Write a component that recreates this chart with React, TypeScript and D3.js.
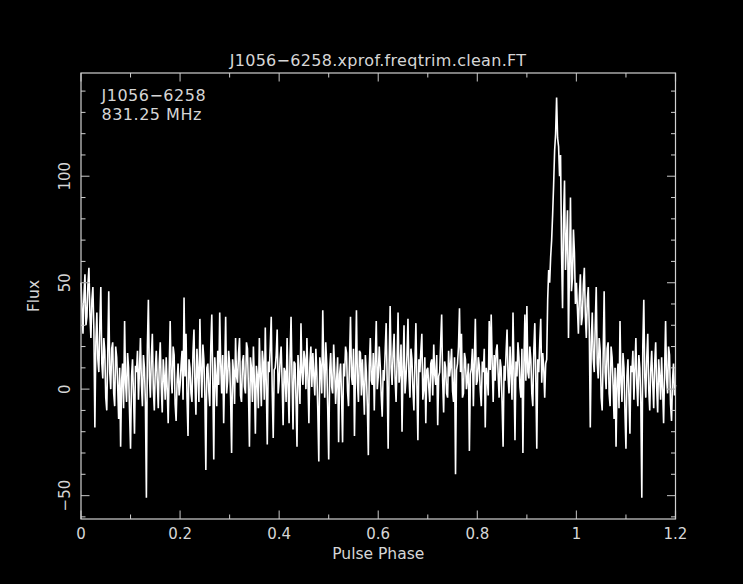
import React from "react";
import * as d3 from "d3";

// One rotation of the pulse profile (500 phase bins, phase = i / 500); the plot shows 1.2 turns
const PROFILE: number[] = [
  50, 38, 26, 44, 54, 30, 34, 49, 57, 35, 24, 42, 48, 28, -18, 22, 36, 14, 8, 30, 48, 12, 5, 24, 18, -4, -10, 16, 46, 8, 0, 19, 22, -2, -8, 20, 15, 2, -14, 10, -27, 4, 12, -9, 32, 3, -6, 17, 10, -11,
  -28, 6, 14, -3, -21, 11, 8, 18, -5, 9, 24, 2, -8, 16, 10, -6, -51, 20, 42, 6, -4, 15, 26, 0, -10, 9, 18, 3, -9, 12, 22, 1, -11, 14, 6, -5, 15, 0, -16, 8, 32, 5, -2, 20, 16, -7, -15, 4, 12, -3,
  2, 11, 18, -5, 43, 6, 26, -4, -22, 14, 10, -2, -6, 17, 28, 3, -12, 19, 8, -6, 33, 9, -4, 21, 14, -3, -38, 10, 12, -1, -8, 20, 35, 4, -33, 15, 6, -8, 18, 2, 36, 12, -2, 16, -16, 8, 34, -2, 4, 18,
  12, -4, -30, 14, 8, -7, 24, 6, 3, 17, 24, -3, -6, 13, 16, 1, -2, 22, 19, 0, -27, 15, 10, -6, 20, 3, -21, 11, 6, -9, 24, 7, -8, 18, 12, -5, 29, 2, -26, 13, 8, 20, 34, -1, -23, 9, 10, 16, 28, -2,
  4, 14, 20, 3, -17, 10, 8, -6, 24, 2, -16, 15, 34, 5, -19, 13, 12, -5, -27, 16, 6, -7, 31, 8, 2, 18, 14, 0, 24, 6, -16, 12, 20, 1, 17, 6, -3, 19, 8, -10, -34, 15, 10, -2, 37, 11, -4, 22, 12, -9,
  -33, 9, 17, 1, -2, 21, 10, -7, 4, 15, -25, 7, 12, -4, -25, 12, 6, 20, 17, -1, -8, 14, 34, 6, 2, 19, -22, 9, 37, 3, -6, 18, 17, -3, 14, 1, -12, 16, 8, -8, -31, 11, 24, 4, 2, 17, -10, 14, 32, 0,
  6, 20, 11, -3, -13, 9, 4, 18, 31, 4, -28, 12, 39, 10, 2, 17, 26, 5, -6, 13, 36, 3, 8, 21, -20, 10, 30, -2, 5, 16, 33, 6, -4, 19, 14, 0, -10, 12, 31, 2, -24, 14, 8, 18, 26, -5, 0, 15, -16, 9,
  10, 1, -6, 12, 14, -3, 21, 7, 2, 16, -17, 6, 8, 22, 35, 4, -11, 13, 10, -2, -4, 18, 6, 11, 19, -1, -6, 15, -40, 9, 12, 20, 38, 8, 26, -4, -2, 17, 14, 0, 5, 12, -29, 7, 10, 19, -8, 14, 33, 2,
  4, 15, 11, -1, -8, 13, 8, 19, -18, 10, 6, -3, 32, 9, 35, 12, -6, 16, 4, 18, 21, 7, -4, 14, 10, -7, -27, 11, 4, 17, 28, 6, -2, 20, 8, -5, 36, 9, -24, 13, 6, 22, 15, 1, -4, 19, -30, 12, 35, 4,
  39, 8, 5, 20, 14, -2, -8, 18, 31, 6, -28, 14, 8, 22, 33, 3, 17, 10, -4, 12, 14, 42, 56, 50, 62, 70, 82, 96, 112, 120, 137, 118, 114, 100, 110, 64, 38, 80, 98, 56, 70, 84, 24, 58, 90, 46, 52, 75, 64, 40,
];
const BINS = 500;
const MAX_PHASE = 1.2;

const X_MAJOR = [0, 0.2, 0.4, 0.6, 0.8, 1, 1.2];
const X_LABELS = ["0", "0.2", "0.4", "0.6", "0.8", "1", "1.2"];
const Y_MAJOR = [-50, 0, 50, 100];
const Y_LABELS = ["\u221250", "0", "50", "100"];

const TITLE = "J1056\u22126258.xprof.freqtrim.clean.FT";
const INFO = ["J1056\u22126258", "831.25 MHz"];
const X_TITLE = "Pulse Phase";
const Y_TITLE = "Flux";

export default function App() {
  const W = 743, H = 584;
  const L = 81, R = 675.5, T = 73, B = 519;
  const x = d3.scaleLinear().domain([0, MAX_PHASE]).range([L, R]);
  const y = d3.scaleLinear().domain([-61, 148.5]).range([B, T]);

  const n = Math.round(BINS * MAX_PHASE);
  const pts: [number, number][] = d3.range(n + 1).map((i) => [i / BINS, PROFILE[i % BINS]]);
  const line = d3.line<[number, number]>().x((d) => x(d[0])).y((d) => y(d[1]));

  const xMinor = d3.range(0.1, MAX_PHASE, 0.2);
  const yMinor = d3.range(-60, 149, 10).filter((v) => v % 50 !== 0);

  const font = "'DejaVu Sans', sans-serif";
  const txt = "#d6d6d6";
  const frame = "#d0d0d0";
  const majorC = "#a8a8a8";
  const minL = 4.5, majL = 8.5;

  return (
    <svg width={W} height={H} style={{ position: "absolute", left: 0, top: 0, background: "#000" }}>
      <rect x={0} y={0} width={W} height={H} fill="#000" />
      <path d={line(pts) || ""} fill="none" stroke="#fff" strokeWidth={1.6} strokeLinejoin="miter" strokeMiterlimit={2} />
      {xMinor.map((v, i) => (
        <g key={"xm" + i} stroke={frame} strokeWidth={1}>
          <line x1={x(v)} x2={x(v)} y1={B} y2={B - minL} />
          <line x1={x(v)} x2={x(v)} y1={T} y2={T + minL} />
        </g>
      ))}
      {X_MAJOR.map((v, i) => (
        <g key={"xM" + i} stroke={majorC} strokeWidth={1.2}>
          <line x1={x(v)} x2={x(v)} y1={B} y2={B - majL} />
          <line x1={x(v)} x2={x(v)} y1={T} y2={T + majL} />
        </g>
      ))}
      {yMinor.map((v, i) => (
        <g key={"ym" + i} stroke={frame} strokeWidth={1}>
          <line x1={L} x2={L + minL} y1={y(v)} y2={y(v)} />
          <line x1={R} x2={R - minL} y1={y(v)} y2={y(v)} />
        </g>
      ))}
      {Y_MAJOR.map((v, i) => (
        <g key={"yM" + i} stroke={majorC} strokeWidth={1.2}>
          <line x1={L} x2={L + majL} y1={y(v)} y2={y(v)} />
          <line x1={R} x2={R - majL} y1={y(v)} y2={y(v)} />
        </g>
      ))}
      <rect x={L} y={T} width={R - L} height={B - T} fill="none" stroke={frame} strokeWidth={1.2} />
      {X_MAJOR.map((v, i) => (
        <text key={"xl" + i} x={x(v)} y={539} textAnchor="middle" fontFamily={font} fontSize={15} fill={txt}>
          {X_LABELS[i]}
        </text>
      ))}
      {Y_MAJOR.map((v, i) => (
        <text key={"yl" + i} transform={`translate(70,${y(v)}) rotate(-90)`} textAnchor="middle"
          fontFamily={font} fontSize={15} fill={txt}>
          {Y_LABELS[i]}
        </text>
      ))}
      <text x={(L + R) / 2} y={559} textAnchor="middle" fontFamily={font} fontSize={15.5} fill={txt}>{X_TITLE}</text>
      <text transform={`translate(38.7,296) rotate(-90)`} textAnchor="middle" fontFamily={font} fontSize={15.5} fill={txt}>{Y_TITLE}</text>
      <text x={378} y={66} textAnchor="middle" fontFamily={font} fontSize={16} letterSpacing={0.3} fill={txt}>{TITLE}</text>
      {INFO.map((s, i) => (
        <text key={"in" + i} x={101.5} y={101 + i * 19.3} fontFamily={font} fontSize={16} letterSpacing={0.5} fill={txt}>{s}</text>
      ))}
    </svg>
  );
}
